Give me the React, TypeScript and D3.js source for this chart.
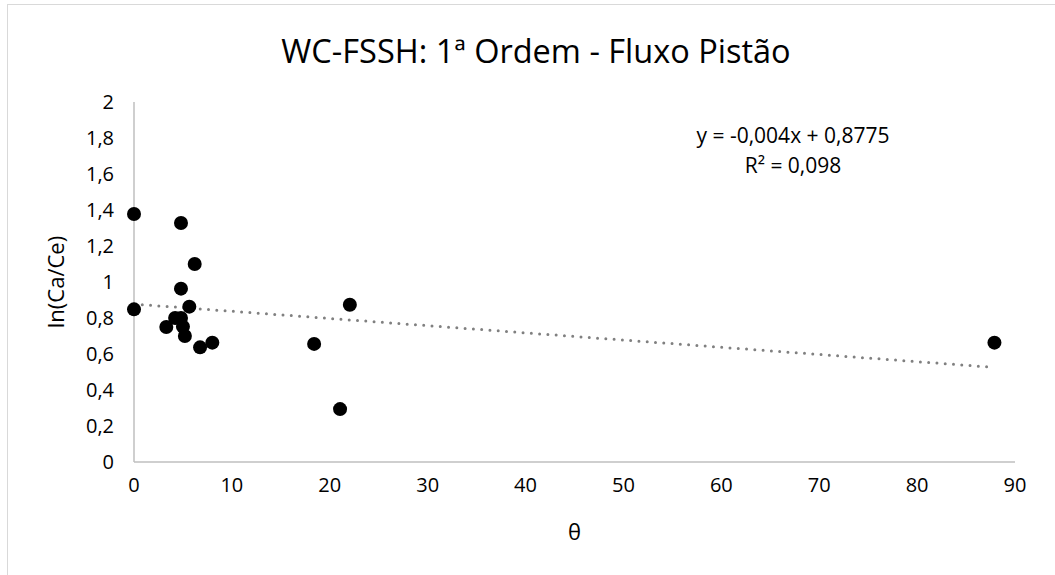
import React, { useEffect, useRef } from "react";
import * as d3 from "d3";

// theta (x) and ln(Ca/Ce) (y)
const thetaValues = [0, 4.8, 6.2, 4.8, 0, 5.65, 4.2, 4.8, 3.3, 5.0, 5.2, 6.75, 8.0, 22.05, 18.4, 21.05, 87.9];
const lnValues = [1.378, 1.328, 1.1, 0.963, 0.848, 0.863, 0.8, 0.8, 0.75, 0.752, 0.7, 0.637, 0.663, 0.874, 0.656, 0.294, 0.663];
const xTicks = [0, 10, 20, 30, 40, 50, 60, 70, 80, 90];
const yTicks = [0, 0.2, 0.4, 0.6, 0.8, 1, 1.2, 1.4, 1.6, 1.8, 2];
const trendSlope = -0.004;
const trendIntercept = 0.8775;
const equationLines = ["y = -0,004x + 0,8775", "R² = 0,098"];

const fmt = (v: number) => String(v).replace(".", ",");

const App = () => {
  const ref = useRef<SVGSVGElement>(null);

  useEffect(() => {
    const width = 1055,
      height = 575;
    const margin = { top: 102, right: 40, bottom: 113, left: 134 };
    const svg = d3.select(ref.current);
    svg.selectAll("*").remove();
    const font = "'Open Sans', sans-serif";

    // chart area border
    svg
      .append("rect")
      .attr("x", 7.5)
      .attr("y", 4.5)
      .attr("width", width + 20)
      .attr("height", height + 20)
      .attr("fill", "#fff")
      .attr("stroke", "#d9d9d9");

    const x = d3.scaleLinear().domain([0, 90]).range([margin.left, width - margin.right]);
    const y = d3.scaleLinear().domain([0, 2]).range([height - margin.bottom, margin.top]);

    // axis lines
    svg
      .append("line")
      .attr("x1", x(0))
      .attr("x2", x(0))
      .attr("y1", y(2))
      .attr("y2", y(0))
      .attr("stroke", "#bfbfbf")
      .attr("stroke-width", 1.5);
    svg
      .append("line")
      .attr("x1", x(0))
      .attr("x2", x(90))
      .attr("y1", y(0))
      .attr("y2", y(0))
      .attr("stroke", "#bfbfbf")
      .attr("stroke-width", 1.5);

    // tick labels
    svg
      .append("g")
      .selectAll("text")
      .data(yTicks)
      .enter()
      .append("text")
      .attr("x", x(0) - 20)
      .attr("y", (d) => y(d))
      .attr("dy", "0.35em")
      .attr("text-anchor", "end")
      .attr("font-family", font)
      .attr("font-size", 20)
      .attr("fill", "#000")
      .text((d) => fmt(d));
    svg
      .append("g")
      .selectAll("text")
      .data(xTicks)
      .enter()
      .append("text")
      .attr("x", (d) => x(d))
      .attr("y", y(0) + 30)
      .attr("text-anchor", "middle")
      .attr("font-family", font)
      .attr("font-size", 20)
      .attr("fill", "#000")
      .text((d) => fmt(d));

    // trendline
    const xMax = d3.max(thetaValues) as number;
    const line = d3
      .line<number>()
      .x((d) => x(d))
      .y((d) => y(trendSlope * d + trendIntercept));
    svg
      .append("path")
      .attr("d", line([0, xMax]))
      .attr("fill", "none")
      .attr("stroke", "#808080")
      .attr("stroke-width", 3)
      .attr("stroke-linecap", "round")
      .attr("stroke-dasharray", "0 8.3");

    // points
    svg
      .append("g")
      .selectAll("circle")
      .data(thetaValues)
      .enter()
      .append("circle")
      .attr("cx", (d) => x(d))
      .attr("cy", (d, i) => y(lnValues[i]))
      .attr("r", 7)
      .attr("fill", "#000");

    // equation
    svg
      .append("g")
      .selectAll("text")
      .data(equationLines)
      .enter()
      .append("text")
      .attr("x", 793)
      .attr("y", (d, i) => 143 + i * 30)
      .attr("text-anchor", "middle")
      .attr("font-family", font)
      .attr("font-size", 21)
      .attr("fill", "#000")
      .text((d) => d);

    // titles
    svg
      .append("text")
      .attr("x", 536)
      .attr("y", 63)
      .attr("text-anchor", "middle")
      .attr("font-family", font)
      .attr("font-size", 32.5)
      .attr("fill", "#000")
      .text("WC-FSSH: 1ª Ordem - Fluxo Pistão");
    svg
      .append("text")
      .attr("x", (x(0) + x(90)) / 2)
      .attr("y", 540)
      .attr("text-anchor", "middle")
      .attr("font-family", font)
      .attr("font-size", 22)
      .attr("fill", "#000")
      .text("θ");
    svg
      .append("text")
      .attr("transform", `translate(64,${(y(0) + y(2)) / 2}) rotate(-90)`)
      .attr("text-anchor", "middle")
      .attr("font-family", font)
      .attr("font-size", 22)
      .attr("fill", "#000")
      .text("ln(Ca/Ce)");
  }, []);

  return (
    <svg
      ref={ref}
      width={1055}
      height={575}
      style={{ position: "absolute", left: 0, top: 0, background: "#fff" }}
    />
  );
};

export default App;
